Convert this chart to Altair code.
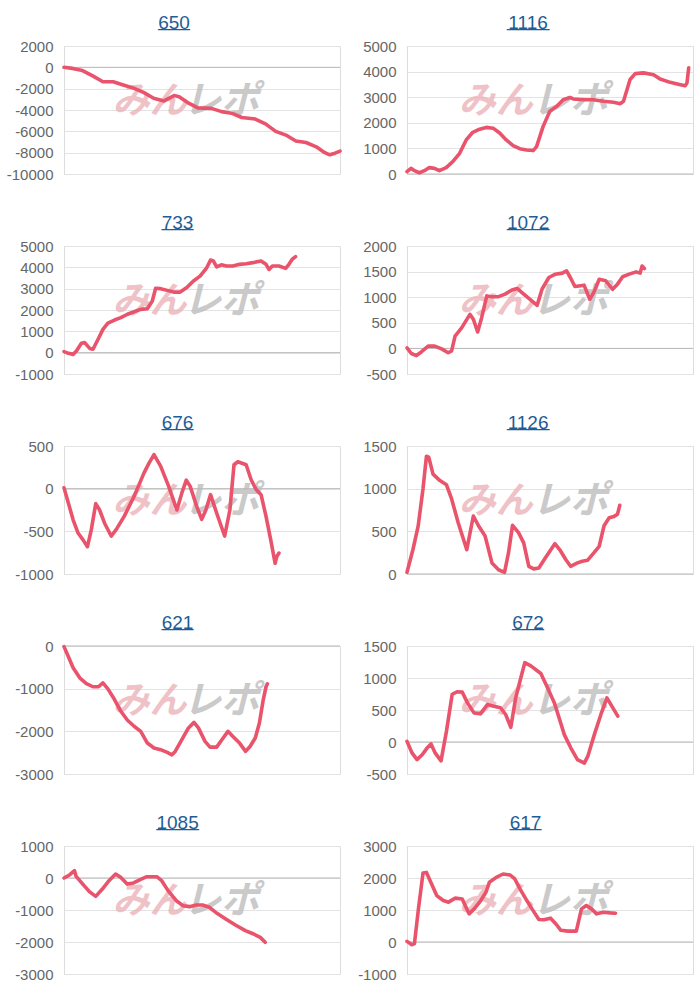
import altair as alt
import pandas as pd

# ---------------- data (x = position along the day, 0..100; y = balance) ----------------
titles = ["650", "1116", "733", "1072", "676", "1126", "621", "672", "1085", "617"]

x_650 = [0, 3.1, 6.7, 10.4, 14.1, 17.8, 21.5, 25.2, 28.8, 32.5, 36.2, 39.9, 41.7, 44.8, 48.5, 53.4,
         57.1, 60.7, 64.4, 69.3, 73.0, 76.7, 80.4, 84.0, 87.7, 91.4, 94.5, 96.3, 98.2, 100]
y_650 = [0, -100, -300, -800, -1350, -1350, -1650, -1950, -2350, -2900, -3150, -2650, -2750, -3300,
         -3800, -3850, -4150, -4300, -4700, -4850, -5300, -6000, -6350, -6900, -7050, -7450, -8000,
         -8200, -8050, -7850]

x_1116 = [0, 1.4, 2.6, 4.3, 6.1, 7.8, 9.6, 11.3, 13.7, 16.0, 18.4, 20.7, 23.0, 25.4, 27.7, 30.1,
          32.4, 34.7, 37.1, 39.4, 41.8, 44.1, 45.3, 47.6, 49.9, 52.3, 54.6, 57.0, 58.1, 61.6, 65.1,
          68.7, 72.2, 74.5, 75.7, 78.0, 79.8, 82.7, 86.2, 88.5, 92.0, 95.6, 97.3, 97.9, 98.5]
y_1116 = [90, 220, 130, 50, 130, 250, 220, 130, 250, 480, 810, 1330, 1630, 1750, 1820, 1790, 1600,
          1330, 1110, 990, 940, 915, 1070, 1860, 2440, 2640, 2900, 2990, 2930, 2900, 2900, 2840,
          2800, 2745, 2840, 3690, 3920, 3950, 3880, 3710, 3580, 3490, 3450, 3560, 4150]

x_733 = [0, 1.6, 3.3, 4.5, 6.3, 7.5, 9.3, 10.5, 12.3, 14.1, 15.9, 18.3, 20.6, 23.0, 25.4, 27.8,
         30.2, 32.0, 33.2, 35.0, 37.4, 39.7, 42.1, 44.5, 46.9, 49.3, 51.7, 53.1, 54.1, 55.3, 57.0,
         58.8, 61.2, 63.6, 66.0, 68.4, 71.4, 73.2, 74.3, 75.5, 77.9, 80.3, 81.5, 82.7, 83.9]
y_733 = [50, -30, -80, 80, 440, 470, 200, 160, 620, 1090, 1380, 1530, 1640, 1800, 1920, 2030, 2060,
         2420, 3020, 3000, 2920, 2840, 2840, 3050, 3360, 3590, 3980, 4340, 4300, 4020, 4120, 4060,
         4060, 4140, 4170, 4220, 4300, 4140, 3900, 4060, 4060, 3950, 4140, 4380, 4500]

x_1072 = [0, 1.5, 3.3, 5.0, 7.4, 9.7, 12.1, 14.4, 15.6, 16.8, 19.1, 22.0, 23.2, 24.7, 26.1, 27.9,
          29.7, 32.0, 34.3, 36.7, 38.5, 40.2, 42.6, 45.5, 47.2, 49.6, 51.9, 54.3, 55.8, 57.2, 58.7,
          60.1, 61.9, 63.9, 65.4, 67.2, 69.5, 71.9, 73.6, 75.4, 77.7, 80.1, 81.5, 82.2, 83.0]
y_1072 = [10, -100, -140, -70, 45, 45, -10, -85, -50, 240, 400, 665, 570, 320, 600, 1025, 1010, 1010,
          1060, 1140, 1170, 1090, 975, 840, 1155, 1385, 1450, 1470, 1515, 1375, 1210, 1220, 1235,
          960, 1105, 1350, 1320, 1155, 1255, 1400, 1450, 1495, 1470, 1610, 1560]

x_676 = [0, 1.6, 3.3, 5.1, 6.9, 8.5, 9.9, 11.5, 12.9, 14.7, 17.1, 18.9, 21.8, 25.4, 29.0, 30.8, 32.6,
         35.0, 37.9, 40.9, 42.7, 44.3, 45.7, 48.1, 49.9, 51.4, 53.1, 55.3, 58.2, 60.1, 61.6, 63.0,
         66.0, 67.8, 69.6, 71.4, 73.2, 74.9, 76.5, 77.1, 77.9]
y_676 = [10, -170, -365, -520, -600, -680, -480, -175, -250, -405, -555, -480, -325, -90, 185, 300,
         400, 265, 30, -250, -50, 100, 30, -210, -360, -250, -70, -285, -555, -250, 280, 315, 280,
         105, -10, -70, -325, -600, -875, -795, -755]

x_1126 = [0, 2.1, 3.9, 5.6, 6.8, 7.6, 9.1, 11.5, 13.8, 15.6, 17.9, 20.9, 23.2, 25.0, 27.3, 29.7,
          32.0, 34.1, 35.5, 36.9, 39.0, 40.8, 42.6, 44.3, 46.1, 48.4, 51.7, 53.7, 55.5, 57.2, 59.6,
          61.3, 63.1, 65.4, 67.2, 68.9, 70.7, 72.4, 73.6, 74.4]
y_1126 = [20, 290, 560, 1000, 1380, 1370, 1170, 1095, 1045, 880, 600, 285, 680, 565, 445, 130, 50,
          20, 250, 570, 485, 365, 90, 60, 70, 190, 355, 270, 170, 90, 130, 150, 160, 250, 325, 565,
          660, 675, 700, 805]

x_621 = [0, 1.6, 3.3, 5.7, 8.1, 10.5, 12.5, 14.1, 15.9, 18.3, 20.6, 23.0, 25.4, 27.8, 30.2, 32.6,
         35.0, 37.4, 39.1, 40.3, 42.7, 45.1, 47.1, 48.7, 51.1, 52.9, 55.3, 57.4, 59.4, 61.2, 63.6,
         65.8, 67.4, 69.3, 70.8, 72.2, 73.2, 73.7]
y_621 = [-15, -250, -510, -745, -880, -955, -955, -865, -1005, -1255, -1530, -1740, -1880, -2000,
         -2275, -2390, -2430, -2495, -2550, -2470, -2195, -1920, -1790, -1920, -2235, -2370, -2370,
         -2180, -2000, -2120, -2275, -2470, -2355, -2155, -1805, -1255, -955, -885]

x_672 = [0, 1.8, 3.5, 5.3, 7.0, 8.4, 9.9, 11.9, 13.8, 15.8, 17.5, 19.3, 21.1, 23.4, 25.7, 28.1,
         30.4, 32.7, 34.5, 36.3, 38.0, 39.8, 41.2, 43.3, 46.8, 49.1, 51.5, 53.2, 55.0, 57.3, 59.6,
         62.0, 63.2, 65.5, 67.8, 69.9, 71.3, 73.7]
y_672 = [10, -175, -275, -200, -95, -30, -175, -295, 170, 745, 785, 780, 615, 455, 440, 585, 560,
         535, 430, 230, 690, 1005, 1240, 1190, 1070, 850, 615, 375, 115, -95, -275, -330, -225, 115,
         430, 690, 585, 405]

x_1085 = [0, 2.0, 3.8, 4.4, 6.8, 9.2, 11.5, 13.9, 16.3, 18.7, 20.5, 22.9, 25.2, 27.6, 30.0, 33.6,
          35.4, 37.7, 40.7, 43.1, 45.5, 47.9, 50.2, 52.6, 55.0, 58.6, 62.1, 65.7, 68.7, 71.1, 72.9]
y_1085 = [0, 95, 230, 50, -190, -425, -575, -345, -85, 125, 20, -190, -155, -50, 40, 40, -85, -395,
          -710, -865, -895, -845, -845, -915, -1075, -1280, -1470, -1645, -1750, -1855, -2010]

x_617 = [0, 1.7, 2.6, 4.0, 5.6, 6.8, 8.6, 10.4, 12.7, 14.5, 16.9, 19.3, 21.7, 23.5, 25.8, 27.6,
         28.8, 31.2, 33.6, 36.0, 37.7, 39.5, 41.9, 43.7, 46.1, 47.9, 50.2, 52.0, 53.8, 56.2, 59.2,
         61.0, 62.7, 64.5, 66.3, 68.7, 71.1, 72.9]
y_617 = [20, -85, -50, 1035, 2155, 2175, 1815, 1450, 1295, 1245, 1370, 1345, 880, 1035, 1295, 1555,
         1865, 2020, 2125, 2095, 1970, 1660, 1295, 1035, 705, 695, 745, 570, 365, 340, 340, 1035,
         1140, 1035, 880, 930, 910, 900]

xs = [x_650, x_1116, x_733, x_1072, x_676, x_1126, x_621, x_672, x_1085, x_617]
ys = [y_650, y_1116, y_733, y_1072, y_676, y_1126, y_621, y_672, y_1085, y_617]

# y-axis tick labels of every panel
ticks = [
    [2000, 0, -2000, -4000, -6000, -8000, -10000],
    [5000, 4000, 3000, 2000, 1000, 0],
    [5000, 4000, 3000, 2000, 1000, 0, -1000],
    [2000, 1500, 1000, 500, 0, -500],
    [500, 0, -500, -1000],
    [1500, 1000, 500, 0],
    [0, -1000, -2000, -3000],
    [1500, 1000, 500, 0, -500],
    [1000, 0, -1000, -2000, -3000],
    [3000, 2000, 1000, 0, -1000],
]

LINE = "#e9536b"
TITLE = "#1f5d96"
FONT = "Liberation Sans"


def panel(i):
    w = 276 if i % 2 == 0 else 286
    h = 128
    t = ticks[i]
    lo, hi = min(t), max(t)
    df = pd.DataFrame({"x": xs[i], "y": ys[i]})
    yscale = alt.Scale(domain=[lo, hi], nice=False, zero=False)
    xscale = alt.Scale(domain=[0, 100], nice=False, zero=False)
    yaxis = alt.Axis(values=t, grid=True, gridColor="#e3e3e3", ticks=False,
                     domain=True, domainColor="#dddddd", labelColor="#666666",
                     labelFont=FONT, labelFontSize=15, labelPadding=11,
                     labelExpr="'' + datum.value", labelOverlap=False,
                     labelFlush=False, labelBound=False)

    line = alt.Chart(df).mark_line(
        color=LINE, strokeWidth=3.6, strokeJoin="round", strokeCap="round"
    ).encode(
        x=alt.X("x:Q", scale=xscale, axis=None),
        y=alt.Y("y:Q", scale=yscale, title=None, axis=yaxis),
    )
    zero = alt.Chart(pd.DataFrame({"z": [0]})).mark_rule(color="#b8b8b8", strokeWidth=1).encode(
        y=alt.Y("z:Q", scale=yscale, title=None, axis=yaxis)
    )
    wm1 = alt.Chart(pd.DataFrame({"s": ["みん"]})).mark_text(
        font="Noto Sans CJK JP", fontSize=37, fontWeight="bold", fontStyle="italic",
        color="#eab4b9", opacity=0.8, align="center", baseline="middle"
    ).encode(text="s:N", x=alt.value(w * 0.31), y=alt.value(h * 0.44))
    wm2 = alt.Chart(pd.DataFrame({"s": ["レポ"]})).mark_text(
        font="Noto Sans CJK JP", fontSize=38, fontWeight="bold", fontStyle="italic",
        color="#bdbdbd", opacity=0.8, align="center", baseline="middle"
    ).encode(text="s:N", x=alt.value(w * 0.57), y=alt.value(h * 0.44))

    return alt.layer(wm1, wm2, zero, line).properties(
        width=w, height=h,
        title=alt.TitleParams(
            text=titles[i], subtitle="_" * len(titles[i]),
            font=FONT, fontSize=19, fontWeight="normal", color=TITLE,
            subtitleFont=FONT, subtitleFontSize=19, subtitleColor=TITLE,
            subtitlePadding=-22, anchor="middle", frame="bounds", offset=3,
        ),
    )


chart = alt.concat(*[panel(i) for i in range(10)], columns=2,
                   spacing={"row": 27, "column": 14}).configure_view(
    stroke=None
).configure(background="white", padding={"left": 5, "top": 10, "right": 5, "bottom": 5})

chart.save("out.html", embed_options={"renderer": "svg", "actions": False})
